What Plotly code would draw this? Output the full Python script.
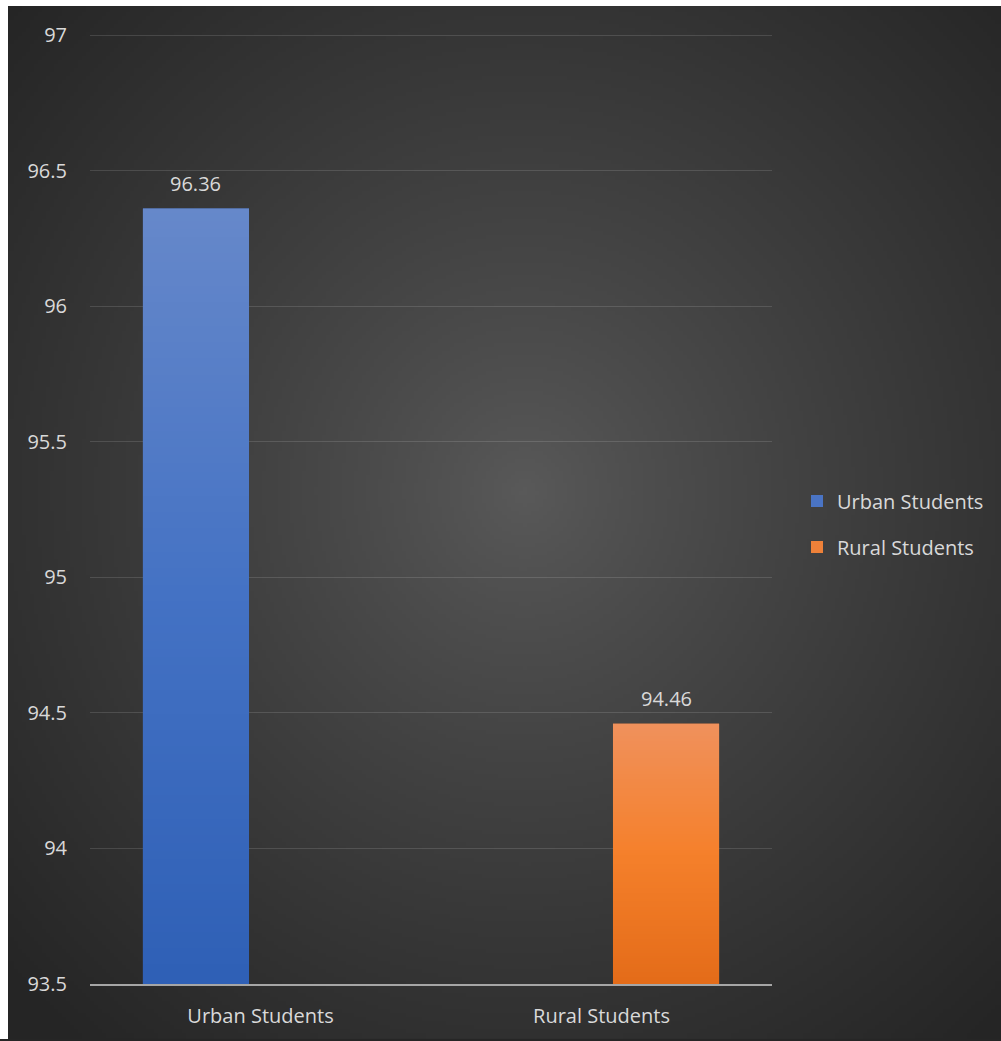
import base64
import struct
import zlib

import numpy as np
import plotly.graph_objects as go

# ---- data ----
categories = ["Urban Students", "Rural Students"]
series_names = ["Urban Students", "Rural Students"]
urban_values = [96.36, None]
rural_values = [None, 94.46]
y_range = [93.5, 97]
tick_vals = [93.5, 94, 94.5, 95, 95.5, 96, 96.5, 97]
tick_text = ["93.5", "94", "94.5", "95", "95.5", "96", "96.5", "97"]

FONT = "'Open Sans', 'Noto Sans', sans-serif"
TXT = "#d9d9d9"
FS = 20

# gradient stops (top, middle, bottom) for each series
series_colors = ["#4a74c4", "#ee8139"]
series_grad = [
    [(0x66, 0x88, 0xCA), (0x44, 0x72, 0xC4), (0x2F, 0x60, 0xB6)],
    [(0xF0, 0x91, 0x5C), (0xF5, 0x80, 0x2B), (0xE4, 0x6C, 0x19)],
]


def png_uri(rgb):
    """rgb: uint8 array (h, w, 3) -> PNG data URI"""
    h, w, _ = rgb.shape
    raw = b"".join(b"\x00" + row.tobytes() for row in rgb)

    def chunk(tag, data):
        c = struct.pack(">I", len(data)) + tag + data
        return c + struct.pack(">I", zlib.crc32(tag + data) & 0xFFFFFFFF)

    png = b"\x89PNG\r\n\x1a\n"
    png += chunk(b"IHDR", struct.pack(">IIBBBBB", w, h, 8, 2, 0, 0, 0))
    png += chunk(b"IDAT", zlib.compress(raw, 9))
    png += chunk(b"IEND", b"")
    return "data:image/png;base64," + base64.b64encode(png).decode()


def radial_bg(w, h):
    yy, xx = np.mgrid[0:h, 0:w]
    cx, cy = (w - 1) * 0.52, (h - 1) * 0.47
    d = np.sqrt(((xx - cx) / (w / 2)) ** 2 + ((yy - cy) / (h / 2)) ** 2) / np.sqrt(2)
    d = np.clip(d, 0, 1)
    v = 0x5A - (0x5A - 0x25) * d ** 0.85
    img = np.clip(v, 0, 255).astype(np.uint8)
    return png_uri(np.repeat(img[:, :, None], 3, axis=2))


def vertical_grad(stops, n=96):
    t = np.linspace(0, 1, n)
    s = np.array(stops, dtype=float)
    pos = np.linspace(0, 1, len(stops))
    cols = np.stack([np.interp(t, pos, s[:, c]) for c in range(3)], axis=1)
    img = np.round(cols).astype(np.uint8)[:, None, :]
    return png_uri(img)


W, H = 1001, 1041
L, R, B = 90, 229, 55
TOP_TICK_PX = 35          # pixel row of the top tick (97)
EDGE_PAD = 2              # keep top gridline just inside the plot area
T = TOP_TICK_PX - EDGE_PAD
px_per_unit = (H - B - TOP_TICK_PX) / (y_range[1] - y_range[0])
y_top = y_range[1] + EDGE_PAD / px_per_unit
pw, ph = W - L - R, H - T - B
BARGAP, GROUPGAP = 0.243, 0.178
BG_X0, BG_Y0 = 8, 6  # dark panel starts here (white strip above/left)

fig = go.Figure()
all_values = [urban_values, rural_values]
for k, (name, vals) in enumerate(zip(series_names, all_values)):
    fig.add_trace(go.Bar(
        x=categories, y=vals, name=name,
        marker=dict(color=series_colors[k], line=dict(width=0)),
        legendgroup=f"g{k}", hoverinfo="x+y",
    ))

# bar geometry (category-index units)
slot = (1 - BARGAP) / len(series_names)
bar_w = slot * (1 - GROUPGAP)
slot_px = slot * pw / len(categories)

for k, vals in enumerate(all_values):
    grad = vertical_grad(series_grad[k])
    for i, (cat, v) in enumerate(zip(categories, vals)):
        if v is None:
            continue
        center = i + (k - (len(series_names) - 1) / 2) * slot
        fig.add_layout_image(dict(
            source=grad, xref="x", yref="y",
            x=center - bar_w / 2, y=v, sizex=bar_w, sizey=v - y_range[0],
            xanchor="left", yanchor="top", sizing="stretch", layer="above",
        ))
        fig.add_annotation(
            x=cat, y=v, xref="x", yref="y", text=f"{v}", showarrow=False,
            yanchor="bottom", yshift=10,
            xshift=(k - (len(series_names) - 1) / 2) * slot_px,
            font=dict(family=FONT, size=FS, color=TXT),
        )

fig.add_layout_image(dict(
    source=radial_bg(248, 259), xref="paper", yref="paper",
    x=(BG_X0 - L) / pw, y=(H - B - BG_Y0) / ph,
    sizex=(W - BG_X0) / pw, sizey=(H - BG_Y0) / ph,
    xanchor="left", yanchor="top", sizing="stretch", layer="below",
))
# white strips above / left of the dark panel
fig.add_shape(type="rect", xref="paper", yref="paper", layer="below",
              x0=-L / pw, x1=(W - L) / pw, y0=(H - B - BG_Y0) / ph, y1=(H - B) / ph,
              fillcolor="white", line=dict(width=0))
fig.add_shape(type="rect", xref="paper", yref="paper", layer="below",
              x0=-L / pw, x1=(BG_X0 - L) / pw, y0=-B / ph, y1=(H - B) / ph,
              fillcolor="white", line=dict(width=0))

fig.update_layout(
    width=W, height=H,
    margin=dict(l=L, r=R, t=T, b=B),
    paper_bgcolor="#262626", plot_bgcolor="rgba(0,0,0,0)",
    barmode="group", bargap=BARGAP, bargroupgap=GROUPGAP,
    font=dict(family=FONT, color=TXT, size=FS),
    showlegend=True,
    legend=dict(
        x=(797 - L) / pw, y=(H - B - 525) / ph, xanchor="left", yanchor="middle",
        bgcolor="rgba(0,0,0,0)", font=dict(size=FS, color=TXT, family=FONT),
        traceorder="grouped", tracegroupgap=17, itemwidth=30,
    ),
)
fig.update_yaxes(
    range=[y_range[0], y_top], tickvals=tick_vals, ticktext=tick_text,
    showgrid=True, gridcolor="rgba(255,255,255,0.13)", gridwidth=1.2,
    zeroline=False, showline=False, ticks="", ticklabelstandoff=22,
    tickfont=dict(size=FS, color=TXT, family=FONT),
)
fig.update_xaxes(
    showline=True, linecolor="#a6a6a6", linewidth=2, layer="above traces",
    showgrid=False, ticks="", ticklabelstandoff=13,
    tickfont=dict(size=FS, color=TXT, family=FONT),
)

fig.write_html(
    "out.html",
    config={"displayModeBar": False},
    post_script=(
        "document.documentElement.style.margin='0px';"
        "document.documentElement.style.overflow='hidden';"
        "document.body.style.margin='0px';"
        "document.body.style.overflow='hidden';"
    ),
)
